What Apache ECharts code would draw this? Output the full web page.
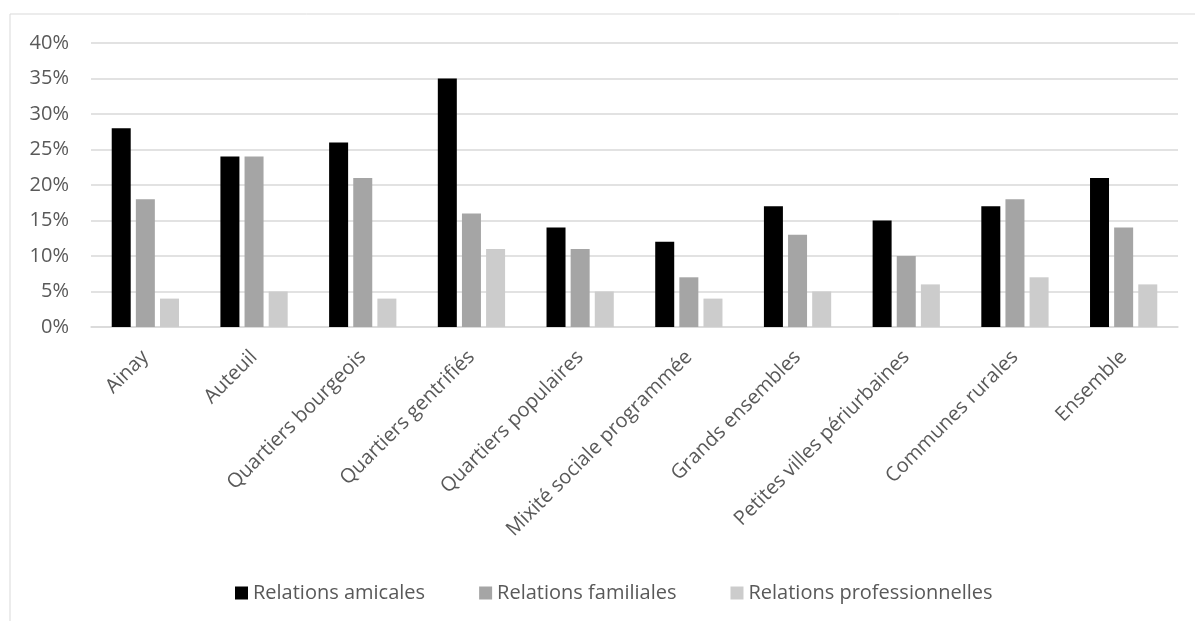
<!DOCTYPE html>
<html>
<head>
<meta charset="utf-8">
<title>Relations</title>
<script src="https://cdn.jsdelivr.net/npm/echarts@6/dist/echarts.min.js"></script>
<style>
  html, body { margin: 0; padding: 0; background: #fff; }
  #chart { width: 1195px; height: 621px; }
</style>
</head>
<body>
<div id="chart"></div>
<script>
  // données (%)
  var categories = ['Ainay', 'Auteuil', 'Quartiers bourgeois', 'Quartiers gentrifiés', 'Quartiers populaires',
    'Mixité sociale programmée', 'Grands ensembles', 'Petites villes périurbaines', 'Communes rurales', 'Ensemble']
  var amicales = [28, 24, 26, 35, 14, 12, 17, 15, 17, 21]
  var familiales = [18, 24, 21, 16, 11, 7, 13, 10, 18, 14]
  var professionnelles = [4, 5, 4, 11, 5, 4, 5, 6, 7, 6]
  var seriesNames = ['Relations amicales', 'Relations familiales', 'Relations professionnelles']

  var font = '"Open Sans", sans-serif'
  var textColor = '#595959'
  var gridColor = '#d9d9d9'

  function bar(name, data, color) {
    return {
      name: name,
      type: 'bar',
      data: data,
      barWidth: 19,
      barGap: '27%',
      itemStyle: { color: color },
      animation: false
    }
  }

  var chart = echarts.init(document.getElementById('chart'))
  chart.setOption({
    backgroundColor: '#fff',
    textStyle: { fontFamily: font },
    graphic: [{
      type: 'rect',
      shape: { x: 10, y: 14, width: 1300, height: 800 },
      style: { fill: 'none', stroke: gridColor, lineWidth: 1 },
      silent: true
    }],
    grid: { left: 91, right: 17, top: 43, bottom: 294 },
    legend: {
      data: seriesNames,
      top: 578,
      left: 230,
      itemWidth: 13,
      itemHeight: 13,
      itemGap: 54,
      icon: 'rect',
      textStyle: { fontFamily: font, fontSize: 20, color: textColor }
    },
    xAxis: {
      type: 'category',
      data: categories,
      axisTick: { show: false },
      axisLine: { lineStyle: { color: gridColor, width: 1.5 } },
      axisLabel: {
        interval: 0,
        rotate: 45,
        margin: 27,
        fontFamily: font,
        fontSize: 20,
        color: textColor
      }
    },
    yAxis: {
      type: 'value',
      min: 0,
      max: 40,
      interval: 5,
      axisLine: { show: false },
      axisTick: { show: false },
      splitLine: { lineStyle: { color: gridColor, width: 1.5 } },
      axisLabel: {
        formatter: '{value}%',
        margin: 22,
        fontFamily: font,
        fontSize: 20,
        color: textColor
      }
    },
    series: [
      bar(seriesNames[0], amicales, '#000000'),
      bar(seriesNames[1], familiales, '#a5a5a5'),
      bar(seriesNames[2], professionnelles, '#cccccc')
    ]
  })
</script>
</body>
</html>
